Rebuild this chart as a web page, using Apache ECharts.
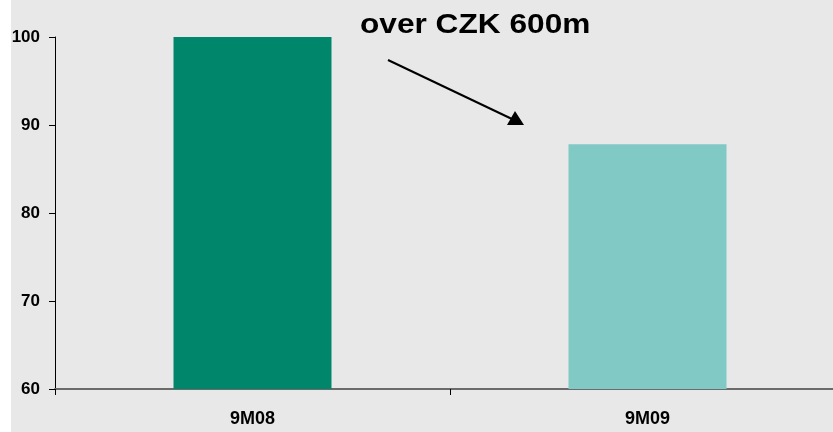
<!DOCTYPE html>
<html>
<head>
<meta charset="utf-8">
<script src="https://cdn.jsdelivr.net/npm/echarts@6/dist/echarts.min.js"></script>
<style>
    html, body { margin: 0; padding: 0; background: #ffffff; overflow: hidden; }
    #chart { width: 845px; height: 432px; }
</style>
</head>
<body>
<div id="chart"></div>
<script>
// 数据
var categories = ["9M08", "9M09"];
var values = [100, 87.8];
var barColors = ["#00876b", "#80c9c5"];
var yTicks = [60, 70, 80, 90, 100];

var myChart = echarts.init(document.getElementById("chart"));

var option = {
    backgroundColor: "#e7e8e7",
    animation: false,
    grid: {
        left: 55,
        right: 0,
        top: 37,
        bottom: 43
    },
    xAxis: {
        type: "category",
        data: categories,
        axisLine: {
            lineStyle: { color: "#6b6b6b", width: 2 }
        },
        axisTick: {
            show: true,
            length: 6,
            lineStyle: { color: "#000000", width: 1 }
        },
        axisLabel: {
            color: "#000000",
            fontFamily: "Liberation Sans",
            fontWeight: "bold",
            fontSize: 18,
            margin: 21
        }
    },
    yAxis: {
        type: "value",
        min: yTicks[0],
        max: yTicks[yTicks.length - 1],
        interval: 10,
        axisLine: {
            show: true,
            lineStyle: { color: "#000000", width: 1 }
        },
        axisTick: {
            show: true,
            length: 6,
            lineStyle: { color: "#000000" }
        },
        splitLine: { show: false },
        axisLabel: {
            color: "#000000",
            fontFamily: "Liberation Sans",
            fontWeight: "bold",
            fontSize: 17,
            margin: 15
        }
    },
    series: [
        {
            type: "bar",
            barWidth: "40%",
            data: values.map(function (v, i) {
                return { value: v, itemStyle: { color: barColors[i] } };
            })
        }
    ],
    graphic: [
        {
            type: "rect",
            shape: { x: 0, y: 0, width: 11, height: 432 },
            style: { fill: "#ffffff" },
            z: 100
        },
        {
            type: "text",
            x: 360,
            y: 11,
            scaleX: 1.13,
            style: {
                text: "over CZK 600m",
                fill: "#000000",
                font: "bold 28px 'Liberation Sans'"
            }
        },
        {
            type: "line",
            shape: { x1: 388, y1: 60, x2: 512, y2: 119 },
            style: { stroke: "#000000", lineWidth: 2 }
        },
        {
            type: "polygon",
            shape: { points: [[507, 125], [524, 125], [515, 111]] },
            style: { fill: "#000000" }
        }
    ]
};

myChart.setOption(option);
</script>
</body>
</html>
